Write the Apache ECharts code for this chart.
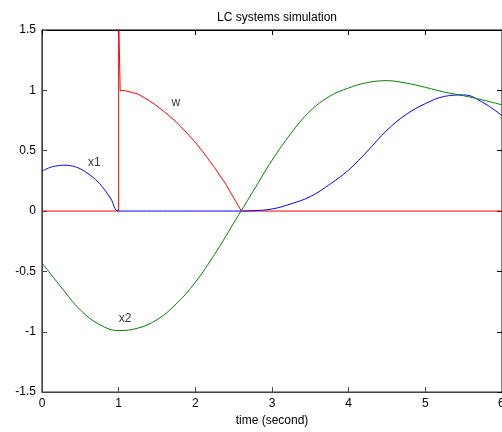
<!DOCTYPE html>
<html>
<head>
<meta charset="utf-8">
<script src="https://cdn.jsdelivr.net/npm/echarts@6/dist/echarts.min.js"></script>
<style>
    html, body { margin: 0; padding: 0; background: #fff; }
    #chart { width: 502px; height: 432px; }
</style>
</head>
<body>
<div id="chart"></div>
<script>
// time samples and states
var x1Data = [
    [0, 0.33], [0.1, 0.36], [0.2, 0.375], [0.3, 0.38], [0.4, 0.372], [0.5, 0.35],
    [0.6, 0.31], [0.7, 0.26], [0.8, 0.19], [0.9, 0.1], [1.0, 0],
    [1.5, 0], [2.0, 0], [2.5, 0], [2.75, 0.003], [3.0, 0.017], [3.25, 0.06],
    [3.5, 0.12], [3.75, 0.22], [4.0, 0.34], [4.25, 0.5], [4.5, 0.67], [4.75, 0.8],
    [5.0, 0.89], [5.25, 0.95], [5.5, 0.962], [5.75, 0.9], [6.0, 0.79]
];
var x2Data = [
    [0, -0.43], [0.25, -0.63], [0.5, -0.82], [0.75, -0.94], [1.0, -0.99],
    [1.25, -0.97], [1.5, -0.9], [1.75, -0.77], [2.0, -0.59], [2.25, -0.36],
    [2.5, -0.1], [2.75, 0.16], [3.0, 0.42], [3.25, 0.645], [3.5, 0.83],
    [3.75, 0.95], [4.0, 1.02], [4.25, 1.065], [4.5, 1.08], [4.75, 1.06],
    [5.0, 1.025], [5.25, 0.985], [5.5, 0.955], [5.75, 0.92], [6.0, 0.88]
];
var wData = [
    [0, 0], [1.0, 0], [1.0, 1.6], [1.02, 1.6], [1.02, 1.0], [1.1, 0.995],
    [1.25, 0.97], [1.4, 0.915], [1.5, 0.87], [1.6, 0.82], [1.75, 0.74],
    [1.9, 0.64], [2.0, 0.57], [2.1, 0.49], [2.25, 0.36], [2.4, 0.22],
    [2.5, 0.11], [2.6, 0], [3.0, 0], [4.0, 0], [5.0, 0], [6.0, 0]
];
var curveLabels = [
    { name: 'x1', value: [0.6, 0.4] },
    { name: 'w', value: [1.69, 0.9] },
    { name: 'x2', value: [1.0, -0.89] }
];

var chart = echarts.init(document.getElementById('chart'));
var font = 'Liberation Sans, Arial, sans-serif';
var axisGray = '#444';

chart.setOption({
    animation: false,
    title: {
        text: 'LC systems simulation',
        left: 272,
        textAlign: 'center',
        top: 7,
        textStyle: { fontSize: 12, fontWeight: 'normal', color: '#000', fontFamily: font }
    },
    grid: {
        left: 42, right: 0, top: 30, bottom: 39,
        show: true, borderColor: '#000', borderWidth: 1, backgroundColor: 'transparent'
    },
    // last tick label "6" sits half outside the window, drawn as plain text
    graphic: [{
        type: 'text', left: 498, top: 398,
        style: { text: '6', fontSize: 12, fill: '#000', font: '12px Liberation Sans, Arial, sans-serif' }
    }],
    xAxis: [{
        type: 'value',
        position: 'bottom',
        min: 0, max: 6, interval: 1,
        name: 'time (second)',
        nameLocation: 'middle',
        nameGap: 22,
        nameTextStyle: { fontSize: 12, color: '#000', fontFamily: font },
        axisLine: { show: true, onZero: false, lineStyle: { color: axisGray, width: 1 } },
        axisTick: { show: true, inside: true, length: 5, lineStyle: { color: axisGray } },
        axisLabel: { fontSize: 12, color: '#000', fontFamily: font, margin: 6, showMaxLabel: false },
        splitLine: { show: false }
    }, {
        type: 'value',
        position: 'top',
        min: 0, max: 6, interval: 1,
        axisLine: { show: true, onZero: false, lineStyle: { color: '#000', width: 1 } },
        axisTick: { show: true, inside: true, length: 5, lineStyle: { color: '#000' } },
        axisLabel: { show: false },
        splitLine: { show: false }
    }],
    yAxis: [{
        type: 'value',
        position: 'left',
        min: -1.5, max: 1.5, interval: 0.5,
        axisLine: { show: true, onZero: false, lineStyle: { color: axisGray, width: 1 } },
        axisTick: { show: true, inside: true, length: 5, lineStyle: { color: axisGray } },
        axisLabel: { fontSize: 12, color: '#000', fontFamily: font, margin: 6 },
        splitLine: { show: false }
    }, {
        type: 'value',
        position: 'right',
        min: -1.5, max: 1.5, interval: 0.5,
        axisLine: { show: true, onZero: false, lineStyle: { color: '#000', width: 1 } },
        axisTick: { show: true, inside: true, length: 5, lineStyle: { color: '#000' } },
        axisLabel: { show: false },
        splitLine: { show: false }
    }],
    series: [
        {
            name: 'w', type: 'line', data: wData,
            showSymbol: false, clip: true,
            lineStyle: { color: '#ff0000', width: 1 }
        },
        {
            name: 'x1', type: 'line', data: x1Data, smooth: 0.4,
            showSymbol: false, clip: true,
            lineStyle: { color: '#0000ff', width: 1 }
        },
        {
            name: 'x2', type: 'line', data: x2Data, smooth: 0.4,
            showSymbol: false, clip: true,
            lineStyle: { color: '#008000', width: 1 }
        },
        {
            name: 'labels', type: 'scatter', data: curveLabels,
            symbolSize: 0,
            label: {
                show: true, position: 'right', distance: 0,
                formatter: '{b}',
                fontSize: 12, color: '#000', fontFamily: font
            }
        }
    ]
});
</script>
</body>
</html>
